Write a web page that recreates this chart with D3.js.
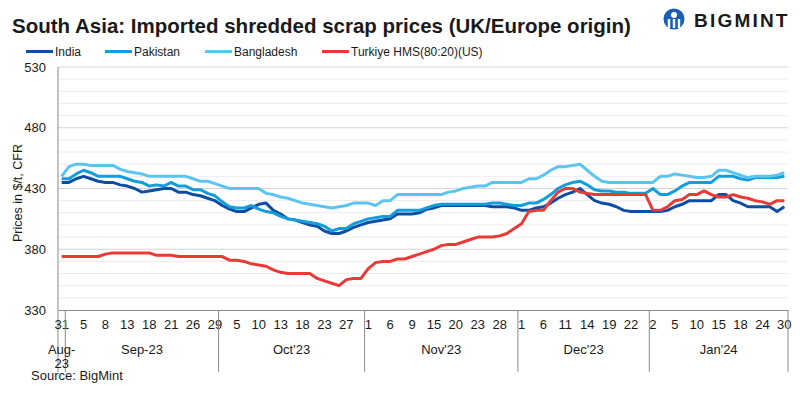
<!DOCTYPE html>
<html>
<head>
<meta charset="utf-8">
<script src="https://cdn.jsdelivr.net/npm/d3@7"></script>
<style>
  body { margin: 0; background: #fff; }
  text { font-family: "Liberation Sans", Arial, sans-serif; fill: #1a1a1a; }
</style>
</head>
<body>
<div id="chart"></div>
<script>

// day of month for each price point (business days)
var days = [31,
    1,4,5,6,7,8,11,12,13,14,15,18,19,20,21,22,25,26,27,28,29,
    3,4,5,6,9,10,11,12,13,16,17,18,19,20,23,25,26,27,30,31,
    1,2,3,6,7,8,9,10,13,15,16,17,20,21,22,23,24,27,28,29,30,
    1,4,5,6,7,8,11,12,13,14,15,18,19,20,21,22,28,29,
    2,3,4,5,8,9,10,11,12,15,16,17,18,19,23,24,25,29,30];

var monthLabels = [["Aug-", "23"], ["Sep-23"], ["Oct'23"], ["Nov'23"], ["Dec'23"], ["Jan'24"]];
var monthCounts = [1, 21, 20, 21, 18, 19];

var india = [435,435,438,440,438,436,435,435,433,432,430,427,428,429,430,430,427,427,425,424,
    422,420,416,413,411,411,414,417,418,412,409,405,404,402,400,399,395,393,393,395,
    398,400,402,403,404,405,409,409,409,410,413,414,416,416,416,416,416,416,416,415,
    415,415,414,412,412,414,415,418,422,425,427,430,425,420,418,417,415,412,411,411,
    411,411,411,412,415,417,420,420,420,420,425,425,420,418,415,415,415,415,411,415];

var pakistan = [438,438,442,445,443,440,440,440,440,438,436,435,432,433,432,435,432,432,429,429,
    426,424,419,415,414,414,416,413,411,410,407,405,404,403,402,401,399,395,397,397,
    401,403,405,406,407,407,412,412,412,412,414,416,417,417,417,417,417,417,417,418,
    418,417,416,416,418,418,421,425,430,433,435,436,433,429,428,428,427,427,426,426,
    426,430,425,425,428,432,435,435,435,435,440,440,440,438,437,439,439,439,439,440];

var bangladesh = [440,448,450,450,449,449,449,449,446,444,443,442,440,440,440,440,440,440,438,436,
    436,434,432,430,430,430,430,430,426,425,423,422,420,418,417,416,415,414,415,416,
    418,418,418,416,420,420,425,425,425,425,425,425,425,427,428,430,431,432,432,435,
    435,435,435,435,438,438,441,445,448,448,449,450,445,440,436,435,435,435,435,435,
    435,435,440,440,442,441,440,439,439,440,445,445,443,441,439,440,440,440,441,443];

var turkiye = [374,374,374,374,374,374,376,377,377,377,377,377,377,375,375,375,374,374,374,374,
    374,374,374,371,371,370,368,367,366,363,361,360,360,360,360,356,354,352,350,355,
    356,356,364,369,370,370,372,372,374,376,378,380,383,384,384,386,388,390,390,390,
    391,393,397,401,411,412,412,420,427,430,430,427,426,425,425,425,425,425,425,425,
    425,412,412,415,420,421,425,425,428,425,423,423,425,423,422,420,419,417,420,420];

var seriesNames = ["India", "Pakistan", "Bangladesh", "Turkiye HMS(80:20)(US)"];
var seriesColors = ["#0d4ea3", "#149ddc", "#5cc4f0", "#ea3a36"];
var yTicks = [330, 380, 430, 480, 530];

var width = 800, height = 399;
var plotLeft = 58, plotRight = 788, plotTop = 67, plotBottom = 310;

var svg = d3.select("#chart").append("svg")
    .attr("width", width)
    .attr("height", height);

var x = d3.scaleBand()
    .domain(d3.range(days.length))
    .range([plotLeft, plotRight]);

var y = d3.scaleLinear()
    .domain([330, 530])
    .range([plotBottom, plotTop]);

function cx(i) { return x(i) + x.bandwidth() / 2; }

// gridlines every 10, darker every 50
svg.append("g").selectAll("line")
    .data(d3.range(340, 531, 10))
    .enter().append("line")
    .attr("x1", plotLeft).attr("x2", plotRight)
    .attr("y1", d => y(d)).attr("y2", d => y(d))
    .attr("stroke", d => (d - 330) % 50 === 0 ? "#d4d4d4" : "#ececec")
    .attr("stroke-width", 1);

// y axis
var yAxis = d3.axisLeft(y).tickValues(yTicks).tickSize(0).tickPadding(12);
var yg = svg.append("g")
    .attr("transform", "translate(" + plotLeft + ",0)")
    .call(yAxis);
yg.select(".domain").remove();
yg.selectAll("text")
    .style("font-size", "13px")
    .attr("fill", "#1a1a1a");

svg.append("line")
    .attr("x1", plotLeft).attr("x2", plotLeft)
    .attr("y1", plotTop).attr("y2", 372)
    .attr("stroke", "#8a8a8a");

svg.append("text")
    .attr("transform", "translate(21.5,193) rotate(-90)")
    .attr("text-anchor", "middle")
    .style("font-size", "12.5px")
    .text("Prices in $/t, CFR");

// x axis, every third day labelled
var xAxis = d3.axisBottom(x)
    .tickValues(d3.range(0, days.length, 3))
    .tickFormat(i => days[i])
    .tickSize(0)
    .tickPadding(10);
var xg = svg.append("g")
    .attr("transform", "translate(0," + plotBottom + ")")
    .call(xAxis);
xg.select(".domain").attr("stroke", "#8a8a8a");
xg.selectAll("text")
    .style("font-size", "13px")
    .attr("fill", "#1a1a1a");

// month groups
var starts = [0];
monthCounts.forEach(function (c, k) { starts.push(starts[k] + c); });

var bounds = starts.slice(1).map(function (s) {
    return s < days.length ? x(s) : plotRight;
});
svg.append("g").selectAll("line")
    .data(bounds)
    .enter().append("line")
    .attr("x1", d => d).attr("x2", d => d)
    .attr("y1", plotBottom).attr("y2", 372)
    .attr("stroke", "#8a8a8a");

monthLabels.forEach(function (lab, k) {
    var x0 = x(starts[k]);
    var x1 = starts[k + 1] < days.length ? x(starts[k + 1]) : plotRight;
    var t = svg.append("text")
        .attr("x", (x0 + x1) / 2)
        .attr("y", 353.5)
        .attr("text-anchor", "middle")
        .style("font-size", "13px");
    lab.forEach(function (s, j) {
        t.append("tspan")
            .attr("x", (x0 + x1) / 2)
            .attr("dy", j === 0 ? 0 : 14.5)
            .text(s);
    });
});

// lines
var line = d3.line()
    .x((d, i) => cx(i))
    .y(d => y(d));

[india, pakistan, bangladesh, turkiye].forEach(function (s, k) {
    svg.append("path")
        .datum(s)
        .attr("d", line)
        .attr("fill", "none")
        .attr("stroke", seriesColors[k])
        .attr("stroke-width", 3)
        .attr("stroke-linejoin", "round");
});

// legend
var legendX = [26, 105, 205, 322];
seriesNames.forEach(function (n, k) {
    svg.append("line")
        .attr("x1", legendX[k]).attr("x2", legendX[k] + 27)
        .attr("y1", 51.5).attr("y2", 51.5)
        .attr("stroke", seriesColors[k])
        .attr("stroke-width", 3);
    svg.append("text")
        .attr("x", legendX[k] + 29)
        .attr("y", 56)
        .style("font-size", "12px")
        .text(n);
});

// title
svg.append("text")
    .attr("x", 12)
    .attr("y", 33)
    .style("font-size", "20.5px")
    .style("font-weight", "bold")
    .attr("fill", "#111")
    .text("South Asia: Imported shredded scrap prices (UK/Europe origin)");

svg.append("text")
    .attr("x", 31)
    .attr("y", 380)
    .style("font-size", "13px")
    .text("Source: BigMint");

// logo
var logo = svg.append("g").attr("transform", "translate(674,19)");
logo.append("circle").attr("r", 10.5).attr("fill", "#1a5fb4");
logo.append("circle").attr("cy", -4).attr("r", 3).attr("fill", "#fff");
[-5, 0, 5].forEach(function (dx) {
    logo.append("rect")
        .attr("x", dx - 1.2).attr("y", 0)
        .attr("width", 2.4).attr("height", 9)
        .attr("fill", "#fff");
});
svg.append("text")
    .attr("x", 694)
    .attr("y", 27)
    .style("font-size", "19px")
    .style("font-weight", "900")
    .style("letter-spacing", "2.2px")
    .attr("fill", "#1a5fb4")
    .text("BIGMINT");

</script>
</body>
</html>
